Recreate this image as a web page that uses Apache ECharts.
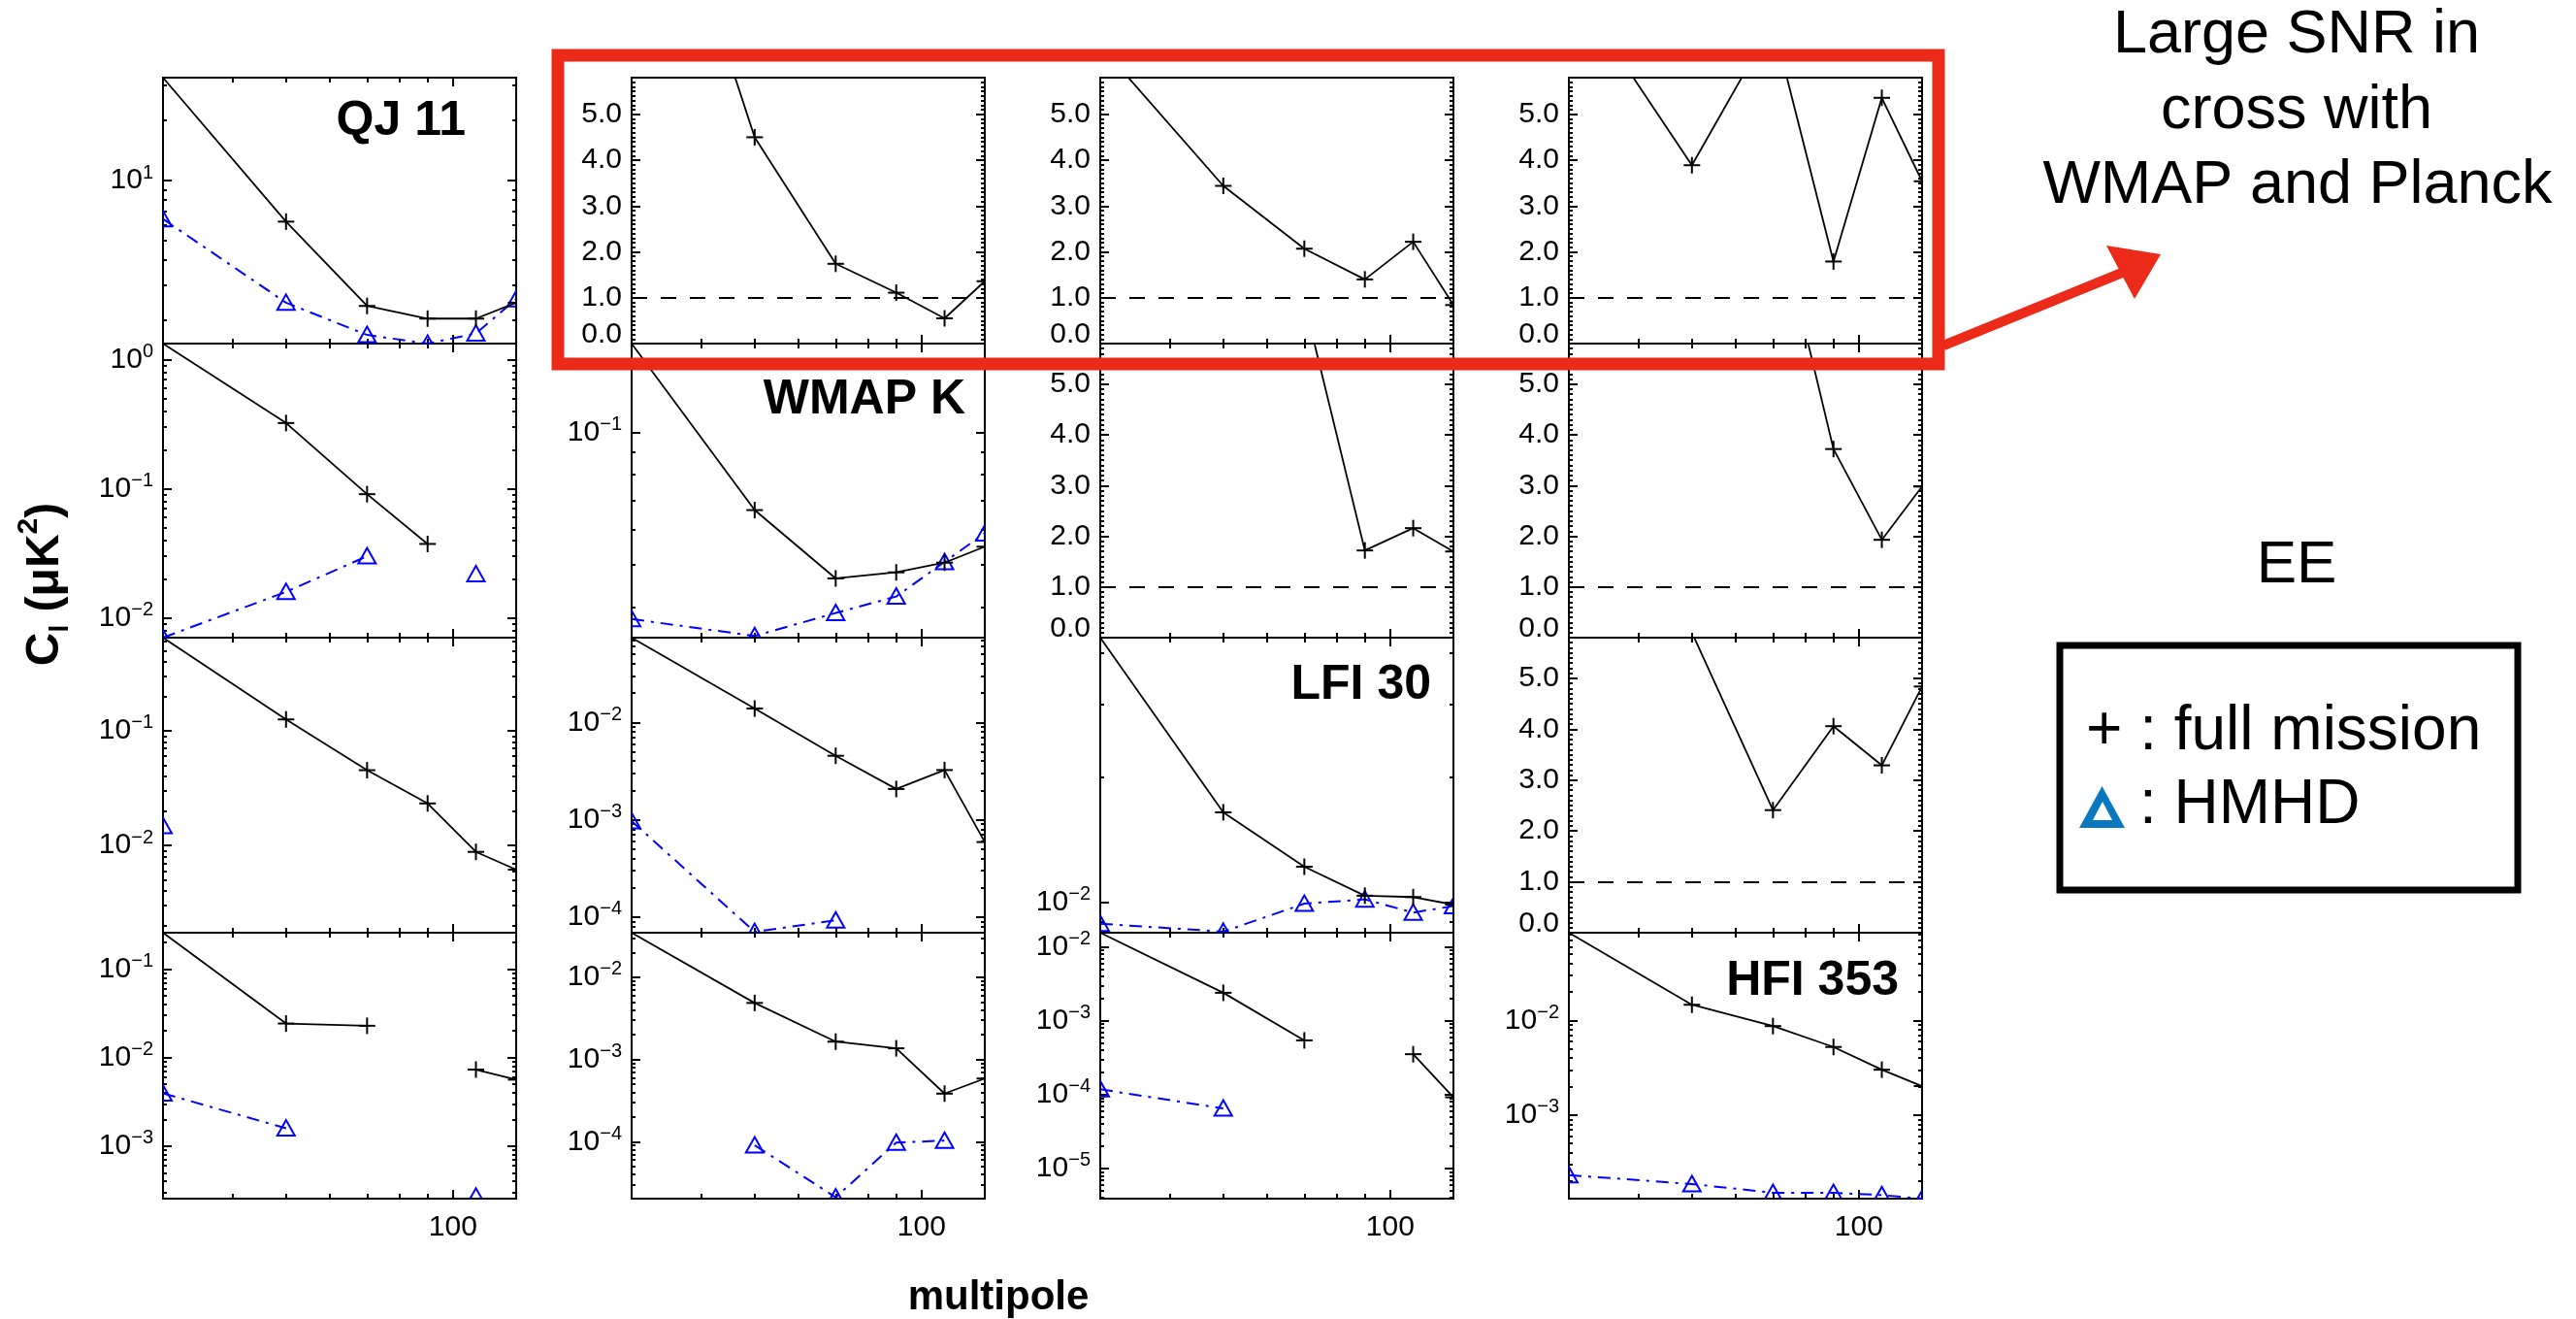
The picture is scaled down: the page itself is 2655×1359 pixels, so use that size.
<!DOCTYPE html>
<html><head><meta charset="utf-8">
<script src="https://cdn.jsdelivr.net/npm/echarts@6/dist/echarts.min.js"></script>
<style>html,body{margin:0;padding:0;background:#fff}#c{width:2655px;height:1359px}</style>
</head><body><div id="c"></div>
<script>
// ---------------- data ----------------
const multipoles = [30, 50, 70, 90, 110, 130];
const xRange = [30, 130];
const xMajorTicks = [100];
const xMinorTicks = [40, 50, 60, 70, 80, 90];
const snrMajorTicks = [0, 1, 2, 3, 4, 5];
const snrRange = [0, 5.8];
const snrThreshold = 1.0;

// row 1
const r1c1Range = [1.53, 32.7];
const r1c1Full = [32.7, 6.23, 2.36, 2.04, 2.04, 2.45];
const r1c1Hmhd = [6.42, 2.45, 1.69, 1.53, 1.72, 2.55];
const r1c2Snr = [12.7, 4.5, 1.74, 1.11, 0.55, 1.36];
const r1c3Snr = [6.5, 3.44, 2.07, 1.40, 2.22, 0.84];
const r1c4Snr = [7.9, 3.89, 7.0, 1.79, 5.36, 3.54];
// row 2
const r2c1Range = [0.0070, 1.334];
const r2c1Full = [1.334, 0.323, 0.0907, 0.0373, null, null];
const r2c1Hmhd = [0.0070, 0.01586, 0.02995, null, 0.0218, null];
const r2c2Range = [0.0341, 0.159];
const r2c2Full = [0.159, 0.0665, 0.0465, 0.048, 0.0505, 0.0549];
const r2c2Hmhd = [0.0376, 0.0344, 0.0388, 0.0423, 0.0507, 0.0589];
const r2c3Snr = [null, null, 6.62, 1.72, 2.16, 1.70];
const r2c4Snr = [null, null, 8.7, 3.72, 1.93, 2.98];
// row 3
const r3c1Range = [0.001735, 0.6476];
const r3c1Full = [0.6476, 0.1255, 0.0453, 0.02324, 0.00879, 0.00615];
const r3c1Hmhd = [0.0148, null, null, null, null, null];
const r3c2Range = [6.92e-5, 0.0741];
const r3c2Full = [0.0741, 0.01387, 0.00454, 0.00207, 0.00324, 0.00059];
const r3c2Hmhd = [0.00097, 7.06e-5, 9.29e-5, null, null, null];
const r3c3Range = [0.00845, 0.0435];
const r3c3Full = [0.0435, 0.01649, 0.01219, 0.01038, 0.0103, 0.00988];
const r3c3Hmhd = [0.00888, 0.0085, 0.00993, 0.01017, 0.00945, 0.0098];
const r3c4Snr = [null, 5.9, 2.41, 4.06, 3.29, 4.84];
// row 4
const r4c1Range = [0.000255, 0.2572];
const r4c1Full = [0.2572, 0.02425, 0.02286, null, 0.00732, 0.00564];
const r4c1Hmhd = [0.00395, 0.00159, null, null, 0.00027, null];
const r4c2Range = [2.03e-5, 0.0347];
const r4c2Full = [0.0347, 0.00486, 0.001645, 0.001365, 0.000384, 0.000586];
const r4c2Hmhd = [null, 9.05e-5, 2.11e-5, 9.76e-5, 0.000103, null];
const r4c3Range = [3.9e-6, 0.0156];
const r4c3Full = [0.0156, 0.002396, 0.000543, null, 0.000353, 9.2e-5];
const r4c3Hmhd = [0.000118, 6.5e-5, null, null, null, null];
const r4c4Range = [0.000131, 0.0841];
const r4c4Full = [0.0841, 0.0146, 0.00869, 0.00523, 0.00301, 0.00202];
const r4c4Hmhd = [0.000232, 0.000187, 0.000151, 0.000151, 0.000143, 0.000131];

const panelNames = ['QJ 11', 'WMAP K', 'LFI 30', 'HFI 353'];
const annotationLines = ['Large SNR in', 'cross with', 'WMAP and Planck'];
const legendLabels = ['+ : full mission', ': HMHD'];
const xTitle = 'multipole';
const yTitleParts = [['C', 'main'], ['l', 'sub'], [' (\u03bcK', 'main'], ['2', 'sup'], [')', 'main']];

// ---------------- layout ----------------
const FONT = '"Liberation Sans", Arial, Helvetica, sans-serif';
const colLeft = [168, 651, 1134, 1617];
const panelW = 364;
const rowTop = [80, 354, 657, 961];
const rowH = [274, 303, 304, 274];

const panels = [
  {row:0,col:0,kind:'log',range:r1c1Range,full:r1c1Full,hmhd:r1c1Hmhd},
  {row:0,col:1,kind:'snr',range:snrRange,full:r1c2Snr},
  {row:0,col:2,kind:'snr',range:snrRange,full:r1c3Snr},
  {row:0,col:3,kind:'snr',range:snrRange,full:r1c4Snr},
  {row:1,col:0,kind:'log',range:r2c1Range,full:r2c1Full,hmhd:r2c1Hmhd},
  {row:1,col:1,kind:'log',range:r2c2Range,full:r2c2Full,hmhd:r2c2Hmhd},
  {row:1,col:2,kind:'snr',range:snrRange,full:r2c3Snr},
  {row:1,col:3,kind:'snr',range:snrRange,full:r2c4Snr},
  {row:2,col:0,kind:'log',range:r3c1Range,full:r3c1Full,hmhd:r3c1Hmhd},
  {row:2,col:1,kind:'log',range:r3c2Range,full:r3c2Full,hmhd:r3c2Hmhd},
  {row:2,col:2,kind:'log',range:r3c3Range,full:r3c3Full,hmhd:r3c3Hmhd},
  {row:2,col:3,kind:'snr',range:snrRange,full:r3c4Snr},
  {row:3,col:0,kind:'log',range:r4c1Range,full:r4c1Full,hmhd:r4c1Hmhd},
  {row:3,col:1,kind:'log',range:r4c2Range,full:r4c2Full,hmhd:r4c2Hmhd},
  {row:3,col:2,kind:'log',range:r4c3Range,full:r4c3Full,hmhd:r4c3Hmhd},
  {row:3,col:3,kind:'log',range:r4c4Range,full:r4c4Full,hmhd:r4c4Hmhd}
];

function logTicks(lo, hi) {
  const major = [], minor = [];
  for (let e = Math.floor(Math.log10(lo)); e <= Math.ceil(Math.log10(hi)); e++) {
    const b = parseFloat(Math.pow(10, e).toPrecision(6));
    if (b >= lo && b <= hi) major.push(b);
    for (let k = 2; k <= 9; k++) {
      const v = parseFloat((k * b).toPrecision(6));
      if (v > lo && v < hi) minor.push(v);
    }
  }
  return {major, minor};
}
function snrTicks() {
  const minor = [];
  for (let i = 1; i < 58; i++) { if (i % 10 !== 0) minor.push(i / 10); }
  return {major: snrMajorTicks, minor};
}
function expLabel(v) {
  const e = Math.round(Math.log10(v));
  return '10{e|' + (e < 0 ? '\u2212' + (-e) : String(e)) + '}';
}

const tickLine = {color: '#000', width: 2};
function xAxis(gi, pos, ticks, len, labels) {
  return {
    type: 'log', logBase: 10, gridIndex: gi, position: pos, min: xRange[0], max: xRange[1],
    axisLine: {show: false}, splitLine: {show: false},
    axisTick: {show: true, inside: true, length: len, customValues: ticks, lineStyle: tickLine},
    axisLabel: {show: labels, customValues: ticks, margin: 15, fontSize: 30, color: '#000', fontFamily: FONT},
    axisPointer: {show: false}, silent: true
  };
}
function yAxis(gi, p, pos, ticks, len, labels) {
  const isSnr = p.kind === 'snr';
  return {
    type: isSnr ? 'value' : 'log', gridIndex: gi, position: pos, min: p.range[0], max: p.range[1],
    axisLine: {show: false}, splitLine: {show: false},
    axisTick: {show: true, inside: true, length: len, customValues: ticks, lineStyle: tickLine},
    axisLabel: {
      show: labels, customValues: ticks, margin: 10, fontSize: 30, color: '#000', fontFamily: FONT,
      formatter: isSnr ? (v => v === 0 ? '{z|0.0}' : v.toFixed(1)) : expLabel,
      rich: {
        e: {fontSize: 20, fontFamily: FONT, color: '#000', padding: [0, 0, 16, 0]},
        z: {fontSize: 30, fontFamily: FONT, color: '#000', padding: [0, 0, 18, 0]}
      }
    },
    axisPointer: {show: false}, silent: true
  };
}

const toPairs = arr => multipoles.map((m, i) => [m, arr[i] == null ? '-' : arr[i]]);
const toPoints = arr => multipoles.map((m, i) => [m, arr[i]]).filter(d => d[1] != null);

function plusMarker(params, api) {
  const p = api.coord([api.value(0), api.value(1)]);
  const h = 8.5;
  return {type: 'group', children: [
    {type: 'line', shape: {x1: p[0] - h, y1: p[1], x2: p[0] + h, y2: p[1]}, style: {stroke: '#000', lineWidth: 2}},
    {type: 'line', shape: {x1: p[0], y1: p[1] - h, x2: p[0], y2: p[1] + h}, style: {stroke: '#000', lineWidth: 2}}
  ]};
}
function triMarker(params, api) {
  const p = api.coord([api.value(0), api.value(1)]);
  return {type: 'polygon', shape: {points: [[p[0], p[1] - 8.5], [p[0] + 9, p[1] + 7.5], [p[0] - 9, p[1] + 7.5]]},
    style: {fill: 'none', stroke: '#0000ff', lineWidth: 2}};
}

const grids = [], xAxes = [], yAxes = [], series = [];
panels.forEach((p, i) => {
  grids.push({left: colLeft[p.col], top: rowTop[p.row], width: panelW, height: rowH[p.row],
    show: true, borderColor: '#000', borderWidth: 2, backgroundColor: 'rgba(0,0,0,0)',
    containLabel: false, outerBoundsMode: 'none'});
  const bottomRow = p.row === 3;
  ['bottom', 'top'].forEach(pos => {
    xAxes.push(xAxis(i, pos, xMajorTicks, 9, pos === 'bottom' && bottomRow));
    xAxes.push(xAxis(i, pos, xMinorTicks, 5, false));
  });
  const t = p.kind === 'snr' ? snrTicks() : logTicks(p.range[0], p.range[1]);
  ['left', 'right'].forEach(pos => {
    yAxes.push(yAxis(i, p, pos, t.major, 9, pos === 'left'));
    yAxes.push(yAxis(i, p, pos, t.minor, 4, false));
  });
  const ax = {xAxisIndex: 4 * i, yAxisIndex: 4 * i};
  if (p.hmhd) {
    series.push(Object.assign({
      type: 'line', name: 'HMHD', data: toPairs(p.hmhd), symbol: 'none', connectNulls: false, z: 2,
      lineStyle: {color: '#0000ff', width: 2, type: [13, 7, 3, 7]}, emphasis: {disabled: true}, silent: true
    }, ax));
    series.push(Object.assign({
      type: 'custom', name: 'HMHD', data: toPoints(p.hmhd), clip: true, z: 2, silent: true,
      renderItem: triMarker
    }, ax));
  }
  const s = Object.assign({
    type: 'line', name: 'full mission', data: toPairs(p.full), symbol: 'none', connectNulls: false, z: 3,
    lineStyle: {color: '#000', width: 1.8}, emphasis: {disabled: true}, silent: true
  }, ax);
  if (p.kind === 'snr') {
    s.markLine = {silent: true, symbol: ['none', 'none'], label: {show: false}, animation: false,
      lineStyle: {color: '#000', width: 2, type: [16, 14]}, emphasis: {disabled: true},
      data: [{yAxis: snrThreshold}]};
  }
  series.push(s);
  series.push(Object.assign({
    type: 'custom', name: 'full mission', data: toPoints(p.full), clip: true, z: 3, silent: true,
    renderItem: plusMarker
  }, ax));
});

const RED = '#ec2a1a';
function txt(x, y, text, size, weight, align, extra) {
  return Object.assign({type: 'text', x, y, z: 50, silent: true, style: {
    text, fontSize: size, fontWeight: weight, fontFamily: FONT, fill: '#000',
    textAlign: align, align: align, textVerticalAlign: 'middle', verticalAlign: 'middle'}}, extra || {});
}

// rotated y title built from plain text pieces, measured so that it is centred
const yTitleStyle = {main: {size: 48, off: 0}, sub: {size: 28, off: 15}, sup: {size: 30, off: -17}};
const mctx = document.createElement('canvas').getContext('2d');
const pieceW = yTitleParts.map(([t, k]) => {
  mctx.font = 'bold ' + yTitleStyle[k].size + 'px "Liberation Sans"';
  return mctx.measureText(t).width;
});
const yTitleLen = pieceW.reduce((a, b) => a + b, 0);
const yTitleCx = 47, yTitleCy = 602;
let cursor = yTitleCy + yTitleLen / 2;
const yTitleEls = yTitleParts.map(([t, k], i) => {
  const el = txt(yTitleCx + yTitleStyle[k].off, cursor, t, yTitleStyle[k].size, 'bold', 'left', {rotation: Math.PI / 2});
  cursor -= pieceW[i];
  return el;
});

const graphic = [
  txt(480, 125, panelNames[0], 50, 'bold', 'right'),
  txt(995, 412, panelNames[1], 50, 'bold', 'right'),
  txt(1475, 706, panelNames[2], 50, 'bold', 'right'),
  txt(1957, 1011, panelNames[3], 50, 'bold', 'right'),
  txt(1029, 1337, xTitle, 42, 'bold', 'center'),
  ...yTitleEls,
  txt(2367, 37, annotationLines[0], 63, 'normal', 'center'),
  txt(2367, 115, annotationLines[1], 63, 'normal', 'center'),
  txt(2368, 192, annotationLines[2], 63, 'normal', 'center'),
  txt(2367, 583, 'EE', 62, 'normal', 'center'),
  {type: 'rect', z: 60, silent: true, shape: {x: 2123, y: 665, width: 472, height: 252},
    style: {fill: 'none', stroke: '#000', lineWidth: 7}},
  txt(2150, 754, legendLabels[0], 64, 'normal', 'left'),
  txt(2205, 830, legendLabels[1], 64, 'normal', 'left'),
  {type: 'polygon', z: 60, silent: true, shape: {points: [[2166.5, 810], [2143, 853], [2190, 853]]},
    style: {fill: '#0a78be'}},
  {type: 'polygon', z: 61, silent: true, shape: {points: [[2167, 826], [2157, 845], [2177, 845]]},
    style: {fill: '#fff'}},
  {type: 'rect', z: 70, silent: true, shape: {x: 575, y: 57, width: 1423, height: 318},
    style: {fill: 'none', stroke: RED, lineWidth: 13}},
  {type: 'line', z: 70, silent: true, shape: {x1: 2003, y1: 356, x2: 2192, y2: 279},
    style: {stroke: RED, lineWidth: 10}},
  {type: 'polygon', z: 70, silent: true, shape: {points: [[2171, 253], [2227, 262], [2200, 308]]},
    style: {fill: RED}}
];

const chart = echarts.init(document.getElementById('c'), null, {renderer: 'canvas'});
chart.setOption({
  animation: false,
  backgroundColor: '#fff',
  textStyle: {fontFamily: FONT},
  grid: grids, xAxis: xAxes, yAxis: yAxes, series: series, graphic: graphic
});
</script></body></html>
